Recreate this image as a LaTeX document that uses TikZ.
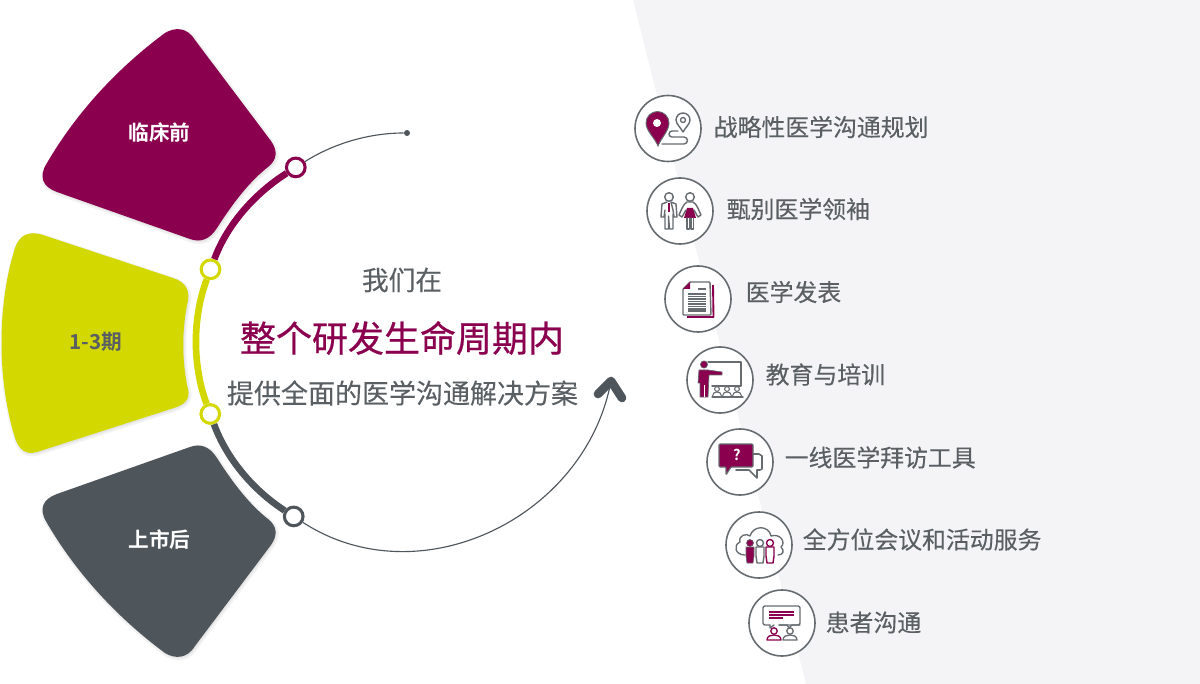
\documentclass[tikz,border=0pt]{standalone}
\usepackage{fontspec}
\setmainfont[BoldFont={Noto Sans CJK SC Bold}]{Noto Sans CJK SC}
\newfontfamily\reg[FakeBold=.18]{Noto Sans CJK SC}
\newfontfamily\med[FakeBold=.55]{Noto Sans CJK SC}
\usetikzlibrary{calc}
\definecolor{plum}{HTML}{8A004F}
\definecolor{lime}{HTML}{D2D800}
\definecolor{slate}{HTML}{4F565B}
\definecolor{txt}{HTML}{595F63}
\definecolor{ringc}{HTML}{666C70}
\definecolor{pale}{HTML}{F4F4F7}
\newcommand{\plumpath}{(165,-33) .. controls (175,-27) and (187,-27) .. (195,-40) -- (271,-141) .. controls (278,-151) and (277,-160) .. (268,-167) .. controls (249,-182) and (233,-203) .. (217,-228) .. controls (210,-239) and (201,-243) .. (190,-239) -- (57,-192) .. controls (43,-187) and (38,-177) .. (47,-163) .. controls (75,-115) and (115,-70) .. (165,-33) -- cycle}
\newcommand{\limepath}{(43,-235) -- (173,-278) .. controls (186,-282) and (191,-291) .. (187,-305) .. controls (182,-332) and (182,-358) .. (187,-385) .. controls (191,-397) and (187,-403) .. (177,-407) -- (37,-452) .. controls (26,-455) and (19,-450) .. (15,-438) .. controls (-3,-380) and (-3,-305) .. (15,-248) .. controls (19,-236) and (28,-230) .. (43,-235) -- cycle}
\tikzset{
 x=.75pt,y=.75pt,
 ring/.style={circle,draw=ringc,line width=1.2pt,fill=white,minimum size=49.5pt,inner sep=0pt},
 stop/.style={circle,fill=white,line width=2.3pt,minimum size=14pt,inner sep=0pt},
 rim/.style={line width=5pt},
 thin rim/.style={line width=.85pt,draw=slate},
 lab/.style={anchor=west,text=txt,font=\reg\fontsize{17.9}{20}\selectfont,inner sep=0pt},
 petal/.style={text=white,font=\fontsize{15.5}{18}\selectfont\bfseries,inner sep=0pt},
 gl/.style={draw=ringc,line width=1.05pt,line join=round,line cap=round},
 pl/.style={draw=plum,line width=1.05pt,line join=round,line cap=round},
}
\begin{document}
\begin{tikzpicture}
\useasboundingbox (0,0) rectangle (1200,-684);
\fill[white] (0,0) rectangle (1200,-684);
\fill[pale] (633,0) -- (1200,0) -- (1200,-684) -- (806,-684) -- cycle;

% shadows + petals
\draw[black,opacity=.05,line width=3pt,fill=black,shift={(1,-1.5)}] \plumpath;
\fill[plum] \plumpath;
\draw[black,opacity=.05,line width=3pt,fill=black,shift={(1,-1.5)}] \limepath;
\fill[lime] \limepath;
\begin{scope}[yshift=-686*.75pt,yscale=-1]
\draw[black,opacity=.05,line width=3pt,fill=black,shift={(1,1.5)}] \plumpath;
\fill[slate] \plumpath;
\end{scope}
\node[petal] (p1) at (159.5,-133) {临床前};
\node[petal,text=txt] (p2) at (96,-342) {1-3期};
\node[petal] (p3) at (159.5,-540) {上市后};

% ring
\coordinate (c) at (407,-342);
\node[stop,draw=plum] (n1) at ($(c)+(122.5:207)$) {};
\node[stop,draw=lime] (n2) at ($(c)+(159.7:209.5)$) {};
\node[stop,draw=lime] (n3) at ($(c)+(200.1:209.5)$) {};
\node[stop,draw=slate] (n4) at ($(c)+(237:208)$) {};
\node[circle,fill=slate,minimum size=4.5pt,inner sep=0pt] (dot) at (407,-133) {};
\coordinate (tip) at (611,-381);
\coordinate (al) at (598,-394);
\coordinate (ar) at (622,-398);
\draw[rim,draw=plum] (n2) to[out=69.7,in=212.5,looseness=.85] (n1);
\draw[rim,draw=lime] (n3) to[out=110.1,in=249.7,looseness=.85] (n2);
\draw[rim,draw=slate] (n4) to[out=147,in=290.1,looseness=.85] (n3);
\draw[thin rim] (n1) to[out=32.5,in=180,looseness=.85] (dot);
\draw[thin rim] (n4) to[out=-33,in=259.5,looseness=1.05] (tip);
\draw[draw=slate,line width=6.5pt,line cap=round,line join=round] (al) -- (tip) -- (ar);

% centre text
\node[text=txt,inner sep=0pt,font=\reg\fontsize{20}{24}\selectfont] (t1) at (402,-280) {我们在};
\node[text=plum,inner sep=0pt,font=\med\fontsize{27}{32}\selectfont] (t2) at (402,-338) {整个研发生命周期内};
\node[text=txt,inner sep=0pt,font=\reg\fontsize{20.25}{24}\selectfont] (t3) at (402.5,-393) {提供全面的医学沟通解决方案};

% rings and labels
\node[ring] (i1) at (668,-128.5) {};
\node[ring] (i2) at (680,-211) {};
\node[ring] (i3) at (698,-299) {};
\node[ring] (i4) at (720,-380) {};
\node[ring] (i5) at (740,-462) {};
\node[ring] (i6) at (759,-545) {};
\node[ring] (i7) at (782,-623) {};
\node[lab] (l1) at (713.5,-127) {战略性医学沟通规划};
\node[lab] (l2) at (726.5,-209) {甄别医学领袖};
\node[lab] (l3) at (745.5,-292) {医学发表};
\node[lab] (l4) at (765.5,-374.5) {教育与培训};
\node[lab] (l5) at (784.5,-457.5) {一线医学拜访工具};
\node[lab] (l6) at (802.5,-539.5) {全方位会议和活动服务};
\node[lab] (l7) at (825.5,-622.5) {患者沟通};

% icon 1: route pins
\begin{scope}[shift={(668,-128)}]
\fill[plum,draw=ringc,line width=.7pt] (-10,-18) .. controls (-13,-10) and (-22,-3) .. (-22,5) arc[start angle=180,end angle=0,radius=11.5] .. controls (1,-3) and (-7,-10) .. (-10,-18) -- cycle;
\fill[white] (-11,5) circle[radius=4];
\draw[gl] (15,-4) .. controls (13,0) and (8,4) .. (8,8) arc[start angle=180,end angle=0,radius=7] .. controls (22,4) and (17,0) .. (15,-4) -- cycle;
\draw[gl] (15,8) circle[radius=2.5];
\draw[gl] (-6,-16) -- (16,-16) arc[start angle=-90,end angle=90,radius=3.5] -- (4,-9) arc[start angle=270,end angle=90,radius=3] -- (10,-3);
\end{scope}

% icon 2: man and woman
\begin{scope}[shift={(680,-211)}]
\draw[gl] (-11,14) circle[radius=4.3];
\draw[gl] (-13,9) -- (-18,7) -- (-19,-6) -- (-16,-6) -- (-15,1) (-15,-3) -- (-15,-18) -- (-11.5,-18) -- (-11.5,-5) -- (-10.5,-18) -- (-7,-18) -- (-7,-3) (-7,1) -- (-6,-6) -- (-3,-6) -- (-4,7) -- (-9,9) -- cycle;
\fill[plum] (-12,8) -- (-10,8) -- (-10,-1) -- (-12,-1) -- cycle;
\draw[gl] (10,14) circle[radius=4.3];
\fill[plum] (7,3) -- (13,3) -- (16,-7) -- (4,-7) -- cycle;
\draw[gl] (7,9) .. controls (3,7) and (1,0) .. (-1,-4) -- (2,-6) -- (6,1) (14,1) -- (18,-6) -- (21,-4) .. controls (19,0) and (17,7) .. (13,9) -- (7,9);
\draw[gl] (7,-7) -- (7,-18) -- (9.5,-18) -- (9.5,-7) (11,-7) -- (11,-18) -- (13.5,-18) -- (13.5,-7);
\end{scope}

% icon 3: document
\begin{scope}[shift={(698,-299)}]
\draw[plum,line width=1.4pt,line join=round] (15,14) -- (15.5,-18) -- (-11,-18);
\fill[white,draw=ringc,line width=1.05pt,line join=round,rounded corners=.6pt] (-8,17) -- (12,17) -- (13,-16) -- (-15,-16) -- (-15,10) -- cycle;
\fill[plum] (-8,17) -- (-8,10) -- (-15,10) -- cycle;
\draw[ringc,line width=.9pt] (0,10) -- (8,10);
\foreach \yy in {5,2.5,0,-2.5,-5,-7.5,-10,-12}{\draw[ringc,line width=.85pt] (-10,\yy) -- (8,\yy);}
\end{scope}

% icon 4: teacher
\begin{scope}[shift={(720,-380)}]
\draw[gl,line width=1.05pt] (-12,18) -- (21,18) -- (21,-6) -- (-8,-6);
\fill[plum,draw=ringc,line width=.5pt] (-16,15.5) circle[radius=3.6];
\fill[plum,draw=ringc,line width=.5pt,line join=round] (-21,10) -- (-12,10) -- (2,8) -- (2,5) -- (-11,5) -- (-12,-17) -- (-20,-17) -- (-20,-3) -- (-22,-3) -- cycle;
\draw[white,line width=.4pt] (-16,-17) -- (-16,-5);
\foreach \xx in {-3,7,17}{
 \draw[gl,line width=.8pt] (\xx,-9) circle[radius=2.4];
 \draw[gl,line width=.8pt] (\xx-4.5,-16) .. controls (\xx-4.5,-13) and (\xx-2,-12) .. (\xx,-12) .. controls (\xx+2,-12) and (\xx+4.5,-13) .. (\xx+4.5,-16);
}
\draw[gl,line width=1pt] (-8,-17) -- (23,-17);
\end{scope}

% icon 5: speech bubbles
\begin{scope}[shift={(740,-462)}]
\draw[gl,line width=1.15pt,fill=white] (4,8) -- (19,8) -- (22,6) -- (22,-7) -- (20,-8) -- (17,-8) -- (17,-16) -- (9,-8) -- (-4,-8);
\fill[plum,draw=ringc,line width=.9pt,line join=round,rounded corners=.8pt] (-21,18) -- (13,18) -- (13,-5) -- (-9,-5) -- (-14,-13) -- (-14,-5) -- (-21,-5) -- cycle;
\node[text=white,inner sep=0pt,font=\fontsize{11}{12}\selectfont\bfseries] (q) at (-3,7) {?};
\end{scope}

% icon 6: cloud and people
\begin{scope}[shift={(759,-545)}]
\draw[gl,line width=1pt] (-14,-10) .. controls (-24,-10) and (-26,0) .. (-19,3) .. controls (-21,10) and (-12,12) .. (-9,9) .. controls (-6,20) and (10,20) .. (12,9) .. controls (22,12) and (27,2) .. (22,-2) .. controls (26,-6) and (24,-10) .. (19,-10);
\fill[plum,draw=ringc,line width=.5pt] (-9,2) circle[radius=3.5];
\fill[plum,draw=ringc,line width=.5pt,line join=round] (-13,-2) -- (-5,-2) -- (-5,-11) -- (-6,-18) -- (-12,-18) -- (-13,-11) -- cycle;
\draw[gl,fill=white] (1,2) circle[radius=3.5];
\draw[gl,fill=white] (-3,-2) -- (5,-2) -- (5,-11) -- (4,-18) -- (-2,-18) -- (-3,-11) -- cycle;
\draw[pl,fill=white] (11,2) circle[radius=3.5];
\draw[pl,fill=white] (7,-2) -- (15,-2) -- (15,-11) -- (14,-18) -- (8,-18) -- (7,-11) -- cycle;
\end{scope}

% icon 7: talk bubble and people
\begin{scope}[shift={(782,-623)}]
\draw[gl,line width=1pt,rounded corners=1.5pt] (-12,-2) -- (-19,-2) -- (-19,17) -- (18,17) -- (18,-2) -- (-3,-2);
\draw[gl,line width=1pt] (-12,-2) -- (-12,-5) -- (-8,-2) (18,-2) -- (10,-2) -- (7,-5) -- (5,-2) -- (-3,-2);
\draw[plum,line width=1.3pt] (-13,11) -- (12,11) (-13,8) -- (12,8);
\draw[plum,line width=1.3pt] (-13,5) -- (1,5);
\draw[pl,line width=1pt] (-8,-8) circle[radius=3.2];
\draw[pl,line width=1pt] (-15,-17) .. controls (-15,-13) and (-11,-12) .. (-8,-12) .. controls (-5,-12) and (-1,-13) .. (-1,-17) -- cycle;
\draw[gl,line width=1pt] (8,-8) circle[radius=3.2];
\draw[gl,line width=1pt] (1,-17) .. controls (1,-13) and (5,-12) .. (8,-12) .. controls (11,-12) and (15,-13) .. (15,-17) -- cycle;
\end{scope}
\end{tikzpicture}
\end{document}
